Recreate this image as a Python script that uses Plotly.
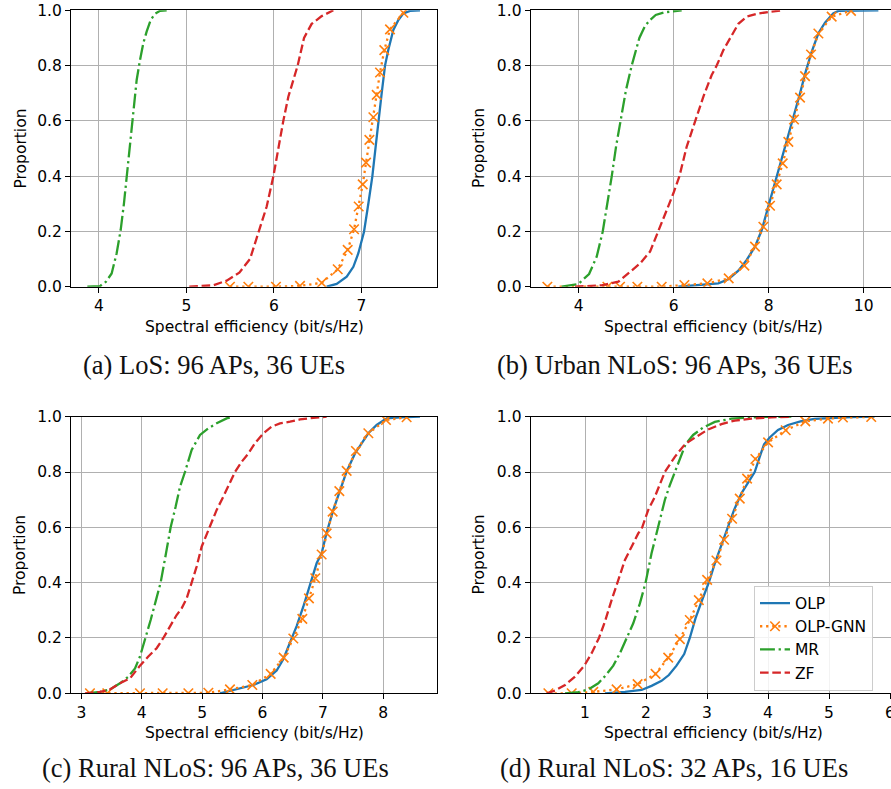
import plotly.graph_objects as go

# ---------------- data ----------------
# (a) LoS: 96 APs, 36 UEs
A_OLP_X = [6.604, 6.718, 6.833, 6.909, 6.966, 7.004, 7.031, 7.081, 7.126, 7.164, 7.195, 7.233, 7.271, 7.309, 7.366, 7.424, 7.481, 7.557, 7.671]
A_OLP_P = [0.0, 0.010, 0.036, 0.072, 0.121, 0.169, 0.199, 0.302, 0.399, 0.507, 0.600, 0.700, 0.800, 0.857, 0.929, 0.965, 0.989, 0.998, 1.0]
A_GNN_X = [5.498, 5.708, 6.024, 6.299, 6.547, 6.730, 6.844, 6.917, 6.970, 7.016, 7.054, 7.092, 7.138, 7.176, 7.214, 7.263, 7.328, 7.481]
A_GNN_P = [0.0, 0.0, 0.0, 0.003, 0.014, 0.063, 0.133, 0.208, 0.290, 0.370, 0.449, 0.531, 0.613, 0.694, 0.775, 0.856, 0.931, 0.991]
A_MR_X = [3.867, 4.011, 4.080, 4.145, 4.202, 4.248, 4.286, 4.316, 4.347, 4.374, 4.400, 4.431, 4.469, 4.507, 4.545, 4.591, 4.640, 4.698, 4.774]
A_MR_P = [0.0, 0.002, 0.018, 0.048, 0.121, 0.205, 0.302, 0.398, 0.495, 0.591, 0.676, 0.748, 0.820, 0.881, 0.923, 0.965, 0.987, 0.998, 1.0]
A_ZF_X = [5.033, 5.308, 5.460, 5.605, 5.727, 5.822, 5.918, 5.994, 6.051, 6.108, 6.166, 6.223, 6.272, 6.345, 6.432, 6.547, 6.680]
A_ZF_P = [0.0, 0.005, 0.022, 0.051, 0.100, 0.199, 0.290, 0.399, 0.501, 0.600, 0.688, 0.748, 0.800, 0.900, 0.951, 0.979, 1.0]

# (b) Urban NLoS: 96 APs, 36 UEs
B_OLP_X = [6.098, 6.519, 6.940, 7.151, 7.361, 7.537, 7.712, 7.853, 7.993, 8.133, 8.274, 8.414, 8.533, 8.660, 8.779, 8.905, 9.046, 9.186, 9.358, 9.467, 10.309]
B_OLP_P = [0.0, 0.005, 0.012, 0.027, 0.058, 0.097, 0.145, 0.205, 0.290, 0.380, 0.470, 0.555, 0.621, 0.700, 0.778, 0.850, 0.917, 0.955, 0.989, 0.998, 1.0]
B_GNN_X = [3.340, 4.604, 4.870, 5.235, 5.747, 6.225, 6.709, 7.158, 7.488, 7.712, 7.888, 8.028, 8.168, 8.295, 8.414, 8.533, 8.660, 8.765, 8.891, 9.046, 9.326, 9.733]
B_GNN_P = [0.0, 0.0, 0.0, 0.0, 0.0, 0.006, 0.012, 0.030, 0.076, 0.145, 0.217, 0.293, 0.370, 0.446, 0.524, 0.605, 0.684, 0.762, 0.840, 0.916, 0.977, 0.998]
B_MR_X = [3.642, 3.993, 4.218, 4.379, 4.505, 4.611, 4.695, 4.786, 4.884, 4.996, 5.116, 5.277, 5.396, 5.502, 5.621, 5.818, 6.168]
B_MR_P = [0.0, 0.010, 0.046, 0.109, 0.199, 0.302, 0.399, 0.507, 0.600, 0.712, 0.800, 0.900, 0.943, 0.965, 0.983, 0.993, 1.0]
B_ZF_X = [3.923, 4.484, 4.835, 5.046, 5.291, 5.502, 5.677, 5.853, 5.993, 6.119, 6.274, 6.449, 6.625, 6.800, 6.905, 7.046, 7.186, 7.361, 7.537, 7.747, 7.993, 8.309]
B_ZF_P = [0.0, 0.005, 0.018, 0.048, 0.084, 0.127, 0.199, 0.277, 0.338, 0.399, 0.507, 0.600, 0.688, 0.766, 0.800, 0.856, 0.900, 0.951, 0.977, 0.987, 0.994, 1.0]

# (c) Rural NLoS: 96 APs, 36 UEs
C_OLP_X = [5.296, 5.517, 5.848, 6.068, 6.234, 6.344, 6.455, 6.565, 6.675, 6.786, 6.896, 6.979, 7.062, 7.172, 7.283, 7.393, 7.531, 7.641, 7.752, 7.890, 8.055, 8.276, 8.607]
C_OLP_P = [0.0, 0.012, 0.030, 0.051, 0.082, 0.123, 0.181, 0.243, 0.313, 0.392, 0.470, 0.506, 0.581, 0.663, 0.737, 0.802, 0.867, 0.904, 0.940, 0.970, 0.994, 0.998, 1.0]
C_GNN_X = [3.143, 3.430, 3.971, 4.347, 4.772, 5.103, 5.461, 5.831, 6.135, 6.350, 6.510, 6.659, 6.769, 6.874, 6.979, 7.062, 7.161, 7.272, 7.393, 7.547, 7.752, 8.044, 8.386]
C_GNN_P = [0.0, 0.0, 0.0, 0.0, 0.0, 0.002, 0.014, 0.030, 0.070, 0.129, 0.198, 0.269, 0.343, 0.416, 0.502, 0.578, 0.657, 0.731, 0.804, 0.876, 0.940, 0.988, 0.998]
C_MR_X = [3.088, 3.309, 3.475, 3.640, 3.778, 3.889, 3.971, 4.065, 4.148, 4.236, 4.313, 4.396, 4.479, 4.562, 4.634, 4.716, 4.827, 4.965, 5.103, 5.241, 5.406, 5.517]
C_MR_P = [0.0, 0.005, 0.014, 0.036, 0.060, 0.090, 0.133, 0.200, 0.265, 0.337, 0.400, 0.499, 0.600, 0.675, 0.747, 0.800, 0.880, 0.934, 0.958, 0.976, 0.994, 1.0]
C_ZF_X = [3.061, 3.309, 3.475, 3.640, 3.806, 3.971, 4.109, 4.247, 4.358, 4.468, 4.578, 4.661, 4.744, 4.827, 4.909, 4.992, 5.119, 5.241, 5.351, 5.461, 5.544, 5.655, 5.765, 5.875, 6.013, 6.151, 6.289, 6.455, 6.620, 6.841, 7.062]
C_ZF_P = [0.0, 0.005, 0.014, 0.036, 0.054, 0.100, 0.133, 0.163, 0.200, 0.241, 0.283, 0.307, 0.343, 0.400, 0.458, 0.530, 0.600, 0.663, 0.711, 0.759, 0.800, 0.837, 0.867, 0.904, 0.940, 0.964, 0.976, 0.982, 0.990, 0.996, 1.0]

# (d) Rural NLoS: 32 APs, 16 UEs
D_OLP_X = [1.327, 1.655, 1.927, 2.091, 2.255, 2.375, 2.500, 2.626, 2.718, 2.811, 2.909, 3.029, 3.128, 3.226, 3.330, 3.444, 3.564, 3.684, 3.782, 3.864, 3.935, 4.028, 4.164, 4.328, 4.546, 4.764, 5.037, 5.364, 5.746]
D_OLP_P = [0.0, 0.005, 0.012, 0.027, 0.045, 0.066, 0.100, 0.142, 0.200, 0.271, 0.331, 0.400, 0.470, 0.530, 0.600, 0.663, 0.723, 0.765, 0.800, 0.855, 0.900, 0.925, 0.952, 0.970, 0.984, 0.992, 0.996, 0.999, 1.0]
D_GNN_X = [0.400, 0.782, 1.136, 1.518, 1.862, 2.157, 2.364, 2.555, 2.718, 2.866, 3.002, 3.155, 3.280, 3.411, 3.537, 3.657, 3.793, 4.001, 4.290, 4.612, 4.983, 5.228, 5.692]
D_GNN_P = [0.0, 0.0, 0.005, 0.014, 0.033, 0.070, 0.129, 0.196, 0.265, 0.337, 0.410, 0.480, 0.555, 0.631, 0.704, 0.776, 0.847, 0.907, 0.951, 0.983, 0.993, 0.997, 0.999]
D_MR_X = [0.673, 0.891, 1.055, 1.218, 1.344, 1.464, 1.573, 1.682, 1.791, 1.900, 1.993, 2.091, 2.200, 2.309, 2.391, 2.473, 2.555, 2.648, 2.773, 2.937, 3.128, 3.400, 3.837, 4.382]
D_MR_P = [0.0, 0.004, 0.014, 0.036, 0.066, 0.100, 0.145, 0.200, 0.253, 0.325, 0.400, 0.506, 0.600, 0.699, 0.753, 0.800, 0.849, 0.900, 0.934, 0.961, 0.981, 0.993, 0.999, 1.0]
D_ZF_X = [0.373, 0.509, 0.673, 0.836, 0.989, 1.109, 1.229, 1.327, 1.436, 1.529, 1.655, 1.764, 1.873, 1.938, 2.037, 2.146, 2.309, 2.473, 2.637, 2.828, 3.019, 3.237, 3.455, 3.728, 4.055, 4.382]
D_ZF_P = [0.0, 0.010, 0.030, 0.060, 0.100, 0.145, 0.200, 0.259, 0.337, 0.400, 0.482, 0.530, 0.578, 0.600, 0.663, 0.711, 0.800, 0.855, 0.900, 0.928, 0.954, 0.973, 0.986, 0.993, 0.998, 1.0]

SERIES = ["OLP", "OLP-GNN", "MR", "ZF"]
CAPTIONS = ["(a) LoS: 96 APs, 36 UEs", "(b) Urban NLoS: 96 APs, 36 UEs",
            "(c) Rural NLoS: 96 APs, 36 UEs", "(d) Rural NLoS: 32 APs, 16 UEs"]
X_TICKS = [[4, 5, 6, 7], [4, 6, 8, 10], [3, 4, 5, 6, 7, 8], [1, 2, 3, 4, 5, 6]]
Y_TICKS = [0.0, 0.2, 0.4, 0.6, 0.8, 1.0]
X_LABEL = "Spectral efficiency (bit/s/Hz)"
Y_LABEL = "Proportion"

PANELS = [
    [(A_OLP_X, A_OLP_P), (A_GNN_X, A_GNN_P), (A_MR_X, A_MR_P), (A_ZF_X, A_ZF_P)],
    [(B_OLP_X, B_OLP_P), (B_GNN_X, B_GNN_P), (B_MR_X, B_MR_P), (B_ZF_X, B_ZF_P)],
    [(C_OLP_X, C_OLP_P), (C_GNN_X, C_GNN_P), (C_MR_X, C_MR_P), (C_ZF_X, C_ZF_P)],
    [(D_OLP_X, D_OLP_P), (D_GNN_X, D_GNN_P), (D_MR_X, D_MR_P), (D_ZF_X, D_ZF_P)],
]

# ---------------- styling / layout ----------------
W, H = 891, 789
FONT = "DejaVu Sans"
FS = 15.5
COLORS = ["#1f77b4", "#ff7f0e", "#2ca02c", "#d62728"]
LW = 2.3
DASHES = ["solid", "2.3px,3.8px", "14.9px,3.7px,2.3px,3.7px", "8.6px,3.7px"]

# plot-area pixel boxes (left, right, top, bottom)
BOXES = [(71.0, 436.7, 10.3, 286.7), (530.7, 891.0, 10.3, 286.7),
         (71.0, 436.7, 416.7, 693.3), (530.7, 891.0, 416.7, 693.3)]
X_RANGES = [[3.680, 7.862], [2.989, 10.575], [2.829, 8.884], [0.110, 6.016]]
CAPTION_POS = [(214, 365), (675, 365), (215, 768), (674, 768)]
XTITLE_POS = [(254.3, 326.5), (713.3, 326.5), (254.3, 733.3), (713.0, 733.3)]
YTITLE_X = [20.0, 478.5, 20.0, 478.5]

fig = go.Figure()

for k, panel in enumerate(PANELS):
    sfx = "" if k == 0 else str(k + 1)
    for s, (xs, ps) in enumerate(panel):
        is_gnn = SERIES[s] == "OLP-GNN"
        fig.add_trace(go.Scatter(
            x=xs, y=ps, name=SERIES[s],
            mode="lines+markers" if is_gnn else "lines",
            line=dict(color=COLORS[s], width=LW, dash=DASHES[s]),
            marker=dict(symbol="x-thin", size=9.5, color=COLORS[s],
                        line=dict(color=COLORS[s], width=1.6)) if is_gnn else None,
            xaxis="x" + sfx, yaxis="y" + sfx,
            showlegend=(k == 3),
        ))

layout = dict(
    width=W, height=H, margin=dict(l=0, r=0, t=0, b=0, autoexpand=False),
    paper_bgcolor="white", plot_bgcolor="white",
    font=dict(family=FONT, size=FS, color="black"),
    showlegend=True,
    legend=dict(x=754 / W, y=1 - 585.5 / H, xanchor="left", yanchor="top",
                bgcolor="rgba(255,255,255,0.85)", bordercolor="#cccccc", borderwidth=1,
                font=dict(family=FONT, size=FS, color="black"),
                itemwidth=30),
)

annotations = []
for k in range(4):
    sfx = "" if k == 0 else str(k + 1)
    l, r, t, b = BOXES[k]
    full = k in (0, 2)
    layout["xaxis" + sfx] = dict(
        domain=[l / W, r / W], range=X_RANGES[k], anchor="y" + sfx, automargin=False,
        tickvals=X_TICKS[k], ticktext=[str(v) for v in X_TICKS[k]],
        showgrid=True, gridcolor="#b0b0b0", gridwidth=1.2, zeroline=False,
        showline=True, linecolor="black", linewidth=1.2, mirror=True,
        ticks="outside", ticklen=5, tickwidth=1.2, tickcolor="black",
        ticklabeloverflow="allow",
        tickfont=dict(family=FONT, size=FS, color="black"),
    )
    layout["yaxis" + sfx] = dict(
        domain=[1 - b / H, 1 - t / H], range=[0, 1], anchor="x" + sfx, automargin=False,
        tickvals=Y_TICKS, ticktext=["%.1f" % v for v in Y_TICKS],
        showgrid=True, gridcolor="#b0b0b0", gridwidth=1.2, zeroline=False,
        showline=True, linecolor="black", linewidth=1.2, mirror=True if full else False,
        ticks="outside", ticklen=5, tickwidth=1.2, tickcolor="black",
        ticklabeloverflow="allow",
        tickfont=dict(family=FONT, size=FS, color="black"),
    )
    cx, cy = CAPTION_POS[k]
    annotations.append(dict(text=CAPTIONS[k], x=cx / W, y=1 - cy / H, xref="paper", yref="paper",
                            xanchor="center", yanchor="middle", showarrow=False,
                            font=dict(family="Liberation Serif", size=26.5, color="#111111")))
    tx, ty = XTITLE_POS[k]
    annotations.append(dict(text=X_LABEL, x=tx / W, y=1 - ty / H, xref="paper", yref="paper",
                            xanchor="center", yanchor="middle", showarrow=False,
                            font=dict(family=FONT, size=FS, color="black")))
    annotations.append(dict(text=Y_LABEL, x=YTITLE_X[k] / W, y=1 - (t + b) / 2 / H,
                            xref="paper", yref="paper", textangle=-90,
                            xanchor="center", yanchor="middle", showarrow=False,
                            font=dict(family=FONT, size=FS, color="black")))

layout["annotations"] = annotations
fig.update_layout(**layout)
fig.write_html("out.html", config={"displayModeBar": False},
               post_script="document.body.style.margin='0px';document.body.style.overflow='hidden';")
